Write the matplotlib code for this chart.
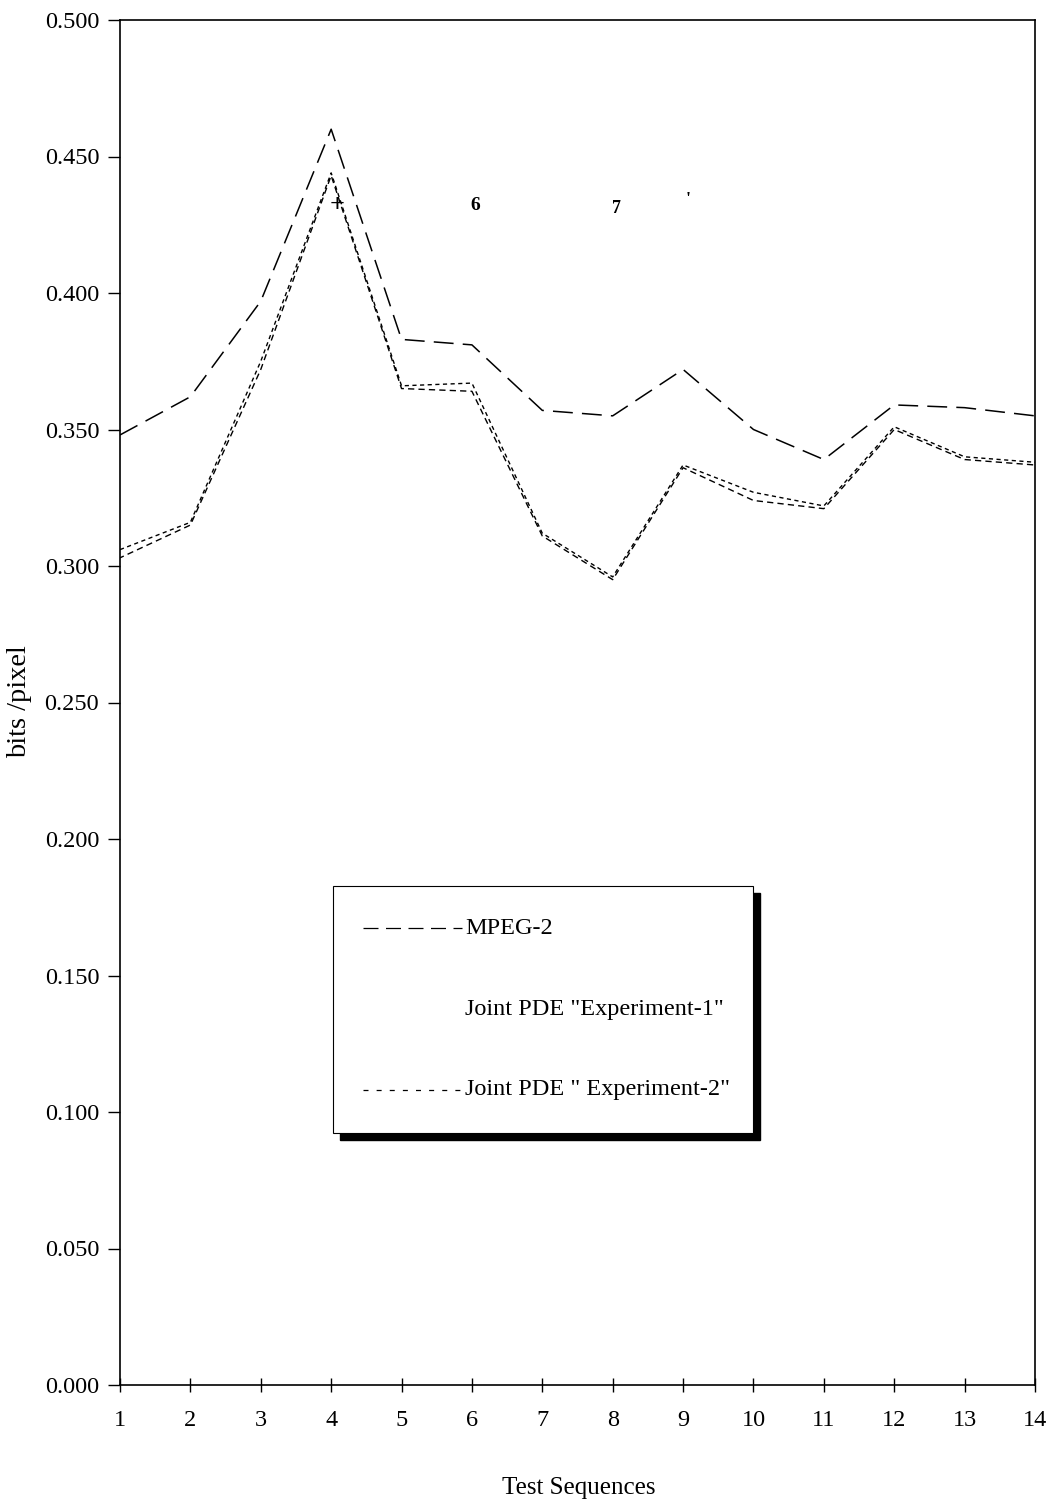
import matplotlib
matplotlib.use("Agg")
import matplotlib.pyplot as plt
from matplotlib.patches import Rectangle
from matplotlib.lines import Line2D
from matplotlib.ticker import FormatStrFormatter

plt.rcParams['font.family'] = ['Liberation Serif', 'DejaVu Serif']

# Test sequence indices
sequences = list(range(1, 15))

# bits/pixel per test sequence
mpeg2 = [0.348, 0.362, 0.397, 0.460, 0.383, 0.381, 0.357, 0.355, 0.372,
         0.350, 0.339, 0.359, 0.358, 0.355]
joint_exp1 = [0.306, 0.316, 0.375, 0.444, 0.366, 0.367, 0.312, 0.296, 0.337,
              0.327, 0.322, 0.351, 0.340, 0.338]
joint_exp2 = [0.303, 0.315, 0.372, 0.443, 0.365, 0.364, 0.311, 0.295, 0.336,
              0.324, 0.321, 0.350, 0.339, 0.337]

y_ticks = [0.000, 0.050, 0.100, 0.150, 0.200, 0.250, 0.300, 0.350, 0.400, 0.450, 0.500]

labels = ['MPEG-2', 'Joint PDE "Experiment-1"', 'Joint PDE " Experiment-2"']

W, H = 1056, 1504
fig = plt.figure(figsize=(W / 100, H / 100), dpi=100)
ax = fig.add_axes([120 / W, 1 - 1385 / H, 915 / W, 1365 / H])

ax.plot(sequences, mpeg2, color='black', lw=1.1, linestyle=(0, (13, 6)))
ax.plot(sequences, joint_exp1, color='black', lw=1.0, linestyle=(0, (3, 2.5)))
ax.plot(sequences, joint_exp2, color='black', lw=1.0, linestyle=(1.5, (4.5, 3)))

ax.set_xlim(1, 14)
ax.set_ylim(0, 0.5)
ax.set_xticks(sequences)
ax.set_yticks(y_ticks)
ax.yaxis.set_major_formatter(FormatStrFormatter('%.3f'))

for s in ax.spines.values():
    s.set_linewidth(1.2)
    s.set_color('black')

ax.tick_params(axis='y', direction='out', length=9, width=1.0, labelsize=17.5, pad=6)
ax.tick_params(axis='x', direction='inout', length=10, width=1.0, labelsize=17.5, pad=13)

fig.text(579 / W, 1 - 1488 / H, 'Test Sequences', fontsize=18, ha='center', va='center')
fig.text(20 / W, 1 - 702 / H, 'bits /pixel', fontsize=20.5, ha='center', va='center',
         rotation=90)

# Small stray glyphs near the top of the plot
for (gx, gy, s, fs) in [(4.08, 0.432, '+', 19), (6.05, 0.432, '6', 14),
                        (8.05, 0.431, '7', 13), (9.07, 0.434, "'", 13)]:
    ax.text(gx, gy, s, fontsize=fs, fontweight='bold', ha='center', va='center',
            color='black', zorder=4)

# Legend box with a solid drop shadow (axes-fraction layout)
tr = ax.transAxes
def fy(p):
    return (1385 - p) / 1365
def fx(p):
    return (p - 120) / 915

bx0, by0 = fx(333), fy(1133)
bw, bh = fx(753) - fx(333), fy(886) - fy(1133)
dx, dy = 7 / 915, 7 / 1365
ax.add_patch(Rectangle((bx0 + dx, by0 - dy), bw, bh, transform=tr,
                       facecolor='black', edgecolor='black', zorder=5, clip_on=False))
ax.add_patch(Rectangle((bx0, by0), bw, bh, transform=tr,
                       facecolor='white', edgecolor='black', lw=0.8, zorder=6, clip_on=False))

lx0, lx1 = fx(363), fx(462)
tx = fx(465)
rows = [(fy(928), (0, (12, 6)), True),
        (fy(1010), None, False),
        (fy(1090), (0, (4, 6.5)), True)]
for (ry, ls, show), lab in zip(rows, labels):
    if show:
        ax.add_line(Line2D([lx0, lx1], [ry, ry], transform=tr, color='black',
                           lw=0.9, linestyle=ls, zorder=7, clip_on=False))
    ax.text(tx, ry, lab, transform=tr, fontsize=17.5, ha='left', va='center', zorder=7)

fig.savefig('out.png', dpi=100, facecolor='white')
